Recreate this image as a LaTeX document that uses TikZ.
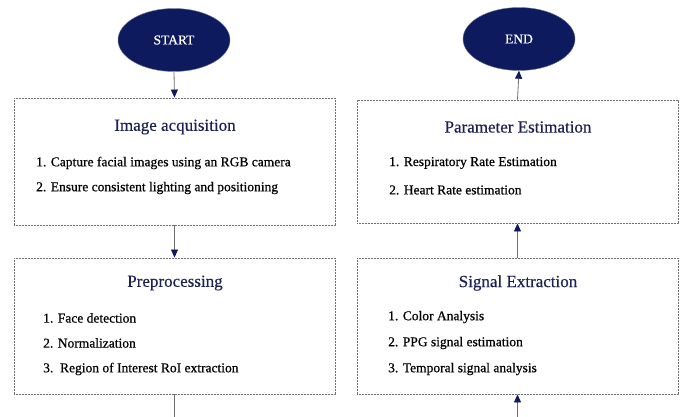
\documentclass[tikz,border=0pt]{standalone}
\usepackage{fontspec}
\setmainfont{Liberation Serif}
\newfontfamily\heavyserif[FakeBold=0.6]{Liberation Serif}
\newfontfamily\titleserif[FakeBold=0.3]{Liberation Serif}
\usetikzlibrary{arrows.meta,shapes.geometric}
\definecolor{navy}{HTML}{0E1A5E}
\definecolor{titlenavy}{HTML}{1B2152}
\definecolor{linegray}{HTML}{6E6E6E}
\begin{document}
\begin{tikzpicture}[x=1pt,y=-1pt,
  terminal/.style={ellipse,fill=navy,draw=navy!60,minimum width=112pt,minimum height=63pt,
    inner sep=0pt,text=white,font=\heavyserif\fontsize{13.5}{15}\selectfont},
  stagebox/.style={draw=linegray,line width=0.9pt,dash pattern=on 0.9pt off 0.6pt,
    minimum width=321pt,inner sep=0pt},
  stagetitle/.style={text=titlenavy,font=\titleserif\fontsize{17}{20}\selectfont,inner sep=0pt},
  stageitem/.style={anchor=west,text=black,font=\heavyserif\fontsize{13.5}{16}\selectfont,inner sep=0pt},
  flow/.style={draw=linegray,line width=0.8pt,-{Triangle[length=8pt,width=7pt,color=navy]}},
  plainflow/.style={draw=linegray,line width=0.8pt}]
\useasboundingbox[fill=white] (0,0) rectangle (683,417);

% terminals
\node[terminal] (start) at (174,40) {START};
\node[terminal] (end) at (519,39) {END};

% left column
\node[stagebox,minimum height=127pt] (acq) at (174.5,161.5) {};
\node[stagetitle] (acqT) at (175,127) {Image acquisition};
\node[stageitem] (acq1) at (36,163) {1. Capture facial images using an RGB camera};
\node[stageitem] (acq2) at (36,188) {2. Ensure consistent lighting and positioning};

\node[stagebox,minimum height=136pt] (pre) at (174.5,326) {};
\node[stagetitle] (preT) at (175,283) {Preprocessing};
\node[stageitem] (pre1) at (43,318) {1. Face detection};
\node[stageitem] (pre2) at (43,343) {2. Normalization};
\node[stageitem] (pre3) at (43,369) {3.\ \ Region of Interest RoI extraction};

% right column
\node[stagebox,minimum height=123pt] (par) at (517.5,161.5) {};
\node[stagetitle] (parT) at (518,127) {Parameter Estimation};
\node[stageitem] (par1) at (389,163) {1. Respiratory Rate Estimation};
\node[stageitem] (par2) at (389,190) {2. Heart Rate estimation};

\node[stagebox,minimum height=136pt] (sig) at (517.5,326) {};
\node[stagetitle] (sigT) at (518,283) {Signal Extraction};
\node[stageitem] (sig1) at (388,317) {1. Color Analysis};
\node[stageitem] (sig2) at (388,343) {2. PPG signal estimation};
\node[stageitem] (sig3) at (388,369) {3. Temporal signal analysis};

% loose ends at the lower edge
\coordinate (downOut) at (174.5,417);
\coordinate (upIn) at (517.5,417);

% connectors
\draw[flow] (start.south) -- (acq.north);
\draw[flow] (acq.south) -- (pre.north);
\draw[plainflow] (pre.south) -- (downOut);
\draw[flow] (upIn) -- (sig.south);
\draw[flow] (sig.north) -- (par.south);
\draw[flow] (par.north) -- (end.south);
\end{tikzpicture}
\end{document}
